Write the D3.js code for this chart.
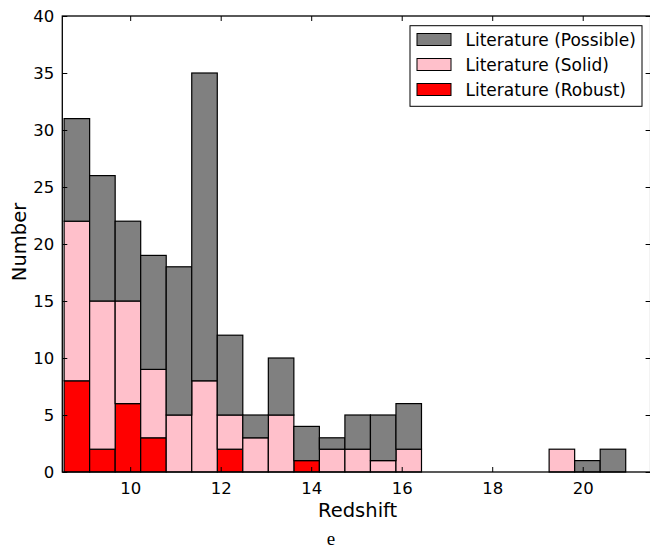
<!DOCTYPE html>
<meta charset="utf-8">
<html lang="en">
<head>
<title>Redshift histogram</title>
<style>
  body { margin: 0; background: #fff; }
  .tick text { font-family: "DejaVu Sans", sans-serif; font-size: 16.5px; fill: #000; }
  .label { font-family: "DejaVu Sans", sans-serif; font-size: 19.5px; }
  .legend-text { font-family: "DejaVu Sans", sans-serif; font-size: 17px; }
</style>
</head>
<body>
<div id="chart"></div>

<script src="https://d3js.org/d3.v7.min.js"></script>
<script>
// histogram bins: 22 equal bins between the lowest and highest redshift
const binLo = 8.54, binHi = 20.95, binCount = 22;

// counts per bin, one array per class (stacked bottom to top)
const robust   = [8, 2, 6, 3, 0, 0, 2, 0, 0, 1, 0, 0, 0, 0, 0, 0, 0, 0, 0, 0, 0, 0];
const solid    = [14, 13, 9, 6, 5, 8, 3, 3, 5, 0, 2, 2, 1, 2, 0, 0, 0, 0, 0, 2, 0, 0];
const possible = [9, 11, 7, 10, 13, 27, 7, 2, 5, 3, 1, 3, 4, 4, 0, 0, 0, 0, 0, 0, 1, 2];

const classNames = ["Literature (Robust)", "Literature (Solid)", "Literature (Possible)"];
const classColors = ["#ff0000", "#ffc0cb", "#808080"];

const xTicks = [10, 12, 14, 16, 18, 20];
const yTicks = [0, 5, 10, 15, 20, 25, 30, 35, 40];

const W = 650, H = 549;
const margin = { left: 62.3, top: 16, right: -0.6, bottom: 77 };

const svg = d3.select("#chart").append("svg")
    .attr("width", W).attr("height", H);

const x = d3.scaleLinear().domain([8.5, 21.5]).range([margin.left, W - margin.right]);
const y = d3.scaleLinear().domain([0, 40]).range([H - margin.bottom, margin.top]);

// build the bin table
const binW = (binHi - binLo) / binCount;
const table = robust.map(function (d, i) {
    return { lo: binLo + i * binW, hi: binLo + (i + 1) * binW, r: d, s: solid[i], p: possible[i] };
});
const stack = d3.stack().keys(["r", "s", "p"]);
const layers = stack(table);

const bars = svg.append("g");
layers.forEach(function (layer, k) {
    bars.append("g").selectAll("rect")
        .data(layer.filter(d => d[1] > d[0]))
        .enter().append("rect")
        .attr("x", d => x(d.data.lo))
        .attr("width", d => x(d.data.hi) - x(d.data.lo))
        .attr("y", d => y(d[1]))
        .attr("height", d => y(d[0]) - y(d[1]))
        .attr("fill", classColors[k])
        .attr("stroke", "#000")
        .attr("stroke-width", 1.2);
});

// axes, ticks pointing inwards on all four sides
const x0 = margin.left, x1 = W - margin.right, y0 = H - margin.bottom, y1 = margin.top;

svg.append("g").attr("transform", "translate(0," + y0 + ")")
    .call(d3.axisBottom(x).tickValues(xTicks).tickSize(-5).tickPadding(10).tickFormat(d3.format("d")))
    .call(g => g.select(".domain").remove());
svg.append("g").attr("transform", "translate(0," + y1 + ")")
    .call(d3.axisTop(x).tickValues(xTicks).tickSize(-5).tickFormat(""))
    .call(g => g.select(".domain").remove());
svg.append("g").attr("transform", "translate(" + x0 + ",0)")
    .call(d3.axisLeft(y).tickValues(yTicks).tickSize(-5).tickPadding(8).tickFormat(d3.format("d")))
    .call(g => g.select(".domain").remove());
svg.append("g").attr("transform", "translate(" + x1 + ",0)")
    .call(d3.axisRight(y).tickValues(yTicks).tickSize(-5).tickFormat(""))
    .call(g => g.select(".domain").remove());

svg.selectAll(".tick line").attr("stroke", "#000").attr("stroke-width", 1);

svg.append("rect")
    .attr("x", x0).attr("y", y1)
    .attr("width", x1 - x0).attr("height", y0 - y1)
    .attr("fill", "none").attr("stroke", "#000").attr("stroke-width", 1.3);

// axis labels
svg.append("text").attr("class", "label")
    .attr("x", (x0 + 647) / 2 + 3).attr("y", 517)
    .attr("text-anchor", "middle").text("Redshift");
svg.append("text").attr("class", "label")
    .attr("transform", "translate(26,242)rotate(-90)")
    .attr("text-anchor", "middle").text("Number");
svg.append("text")
    .attr("x", 331).attr("y", 544.5)
    .attr("text-anchor", "middle")
    .style("font-family", "'Liberation Serif', serif").style("font-size", "19px")
    .text("e");

// legend
const legend = svg.append("g");
legend.append("rect")
    .attr("x", 410).attr("y", 25.7).attr("width", 232).attr("height", 80.6)
    .attr("fill", "#fff").attr("stroke", "#000").attr("stroke-width", 1);
const order = [2, 1, 0];
order.forEach(function (k, i) {
    const cy = 39.5 + i * 25;
    legend.append("rect")
        .attr("x", 417).attr("y", cy - 6).attr("width", 34).attr("height", 12)
        .attr("fill", classColors[k]).attr("stroke", "#000").attr("stroke-width", 1);
    legend.append("text").attr("class", "legend-text")
        .attr("x", 465.5).attr("y", cy).attr("dy", "0.36em")
        .text(classNames[k]);
});
</script>
</body>
</html>
